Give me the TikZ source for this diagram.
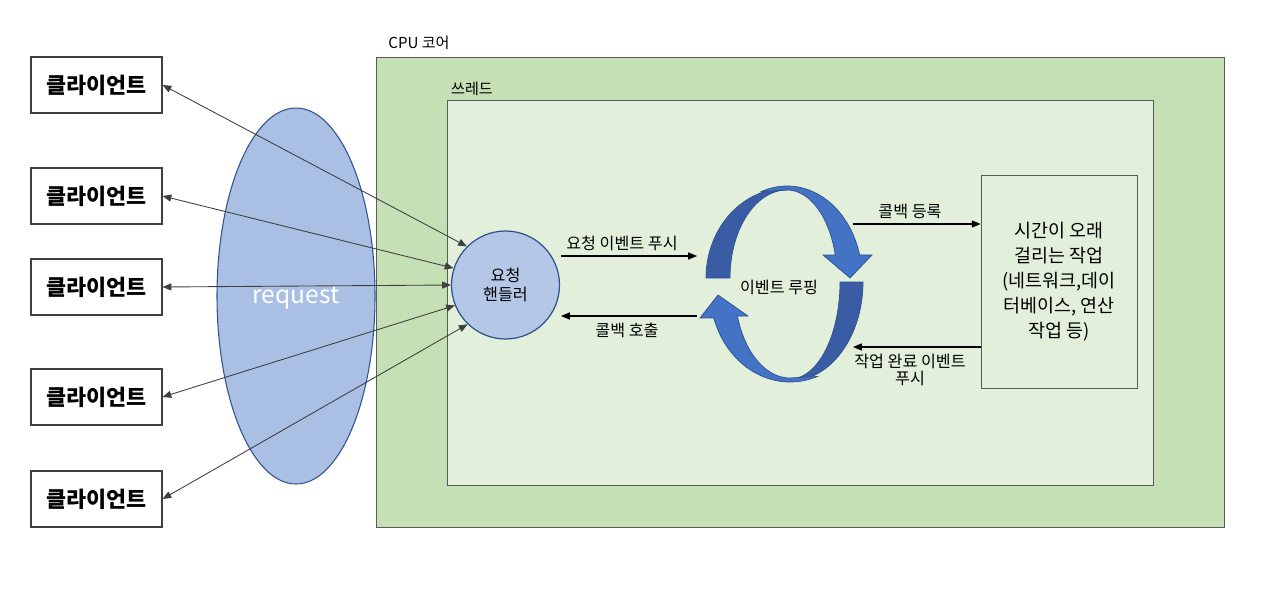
\documentclass[tikz,border=0pt]{standalone}
\usepackage{fontspec}
\setmainfont{Noto Sans CJK KR}
\usetikzlibrary{arrows.meta}
\definecolor{coreG}{HTML}{C5E0B4}
\definecolor{thrG}{HTML}{E2EFDA}
\definecolor{ellB}{HTML}{A9BFE3}
\definecolor{cirB}{HTML}{B4C7E7}
\definecolor{edgeB}{HTML}{2F528F}
\definecolor{loopD}{HTML}{3A5CA4}
\definecolor{loopL}{HTML}{4472C4}
\definecolor{lineG}{HTML}{404040}
\definecolor{boxG}{HTML}{5A5A5A}
\tikzset{
  client/.style={draw=lineG, line width=0.6pt, fill=white, minimum width=2.62cm, minimum height=1.12cm, inner sep=0pt, font=\fontsize{12.4pt}{14pt}\selectfont\bfseries},
  lbl/.style={inner sep=0pt, font=\fontsize{9.2pt}{10.5pt}\selectfont},
  biarr/.style={draw=lineG, line width=0.5pt, {Triangle[length=5pt,width=4pt]}-{Triangle[length=5pt,width=4pt]}},
  arr/.style={draw=black, line width=0.6pt, -{Triangle[length=5pt,width=4pt]}},
  ribD/.style={fill=loopD, draw=edgeB, line width=0.4pt},
  ribL/.style={fill=loopL, draw=edgeB, line width=0.4pt}
}
\begin{document}
\begin{tikzpicture}[x=0.02cm,y=-0.02cm]
\useasboundingbox (0,0) rectangle (1280,588);
% containers
\node[draw=boxG, line width=0.6pt, fill=coreG, minimum width=16.98cm, minimum height=9.42cm, inner sep=0pt] (core) at (800.5,292.5) {};
\node[draw=boxG, line width=0.6pt, fill=thrG, minimum width=14.14cm, minimum height=7.72cm, inner sep=0pt] (thread) at (800.5,293) {};
\node[lbl, font=\fontsize{8.6pt}{10pt}\selectfont] (corelbl) at (419,43) {CPU 코어};
\node[lbl, font=\fontsize{8.6pt}{10pt}\selectfont] (thrlbl) at (472,89) {쓰레드};
% request ellipse
\draw[fill=ellB, draw=edgeB, line width=0.6pt] (296,296) ellipse [x radius=79, y radius=188];
\node[inner sep=0pt, text=white, font=\fontsize{14pt}{16pt}\selectfont] (req) at (296,298) {request};
% clients
\node[client] (c1) at (96.5,85) {클라이언트};
\node[client] (c2) at (96.5,196) {클라이언트};
\node[client] (c3) at (96.5,287) {클라이언트};
\node[client] (c4) at (96.5,397) {클라이언트};
\node[client] (c5) at (96.5,499) {클라이언트};
% handler
\node[circle, draw=edgeB, line width=0.7pt, fill=cirB, minimum size=2.16cm, inner sep=0pt, align=center, font=\fontsize{9.2pt}{11pt}\selectfont] (hd) at (505.5,285) {요청\\핸들러};
\draw[biarr] (c1.east) -- (hd.135);
\draw[biarr] (c2.east) -- (hd.162);
\draw[biarr] (c3.east) -- (hd.180);
\draw[biarr] (c4.east) -- (hd.202);
\draw[biarr] (c5.east) -- (hd.226);
% long-running work
\node[draw=boxG, line width=0.5pt, fill=thrG, minimum width=3.12cm, minimum height=4.26cm, inner sep=0pt, align=center, font=\fontsize{10.5pt}{14.2pt}\selectfont] (wk) at (1059,281.5) {시간이 오래\\걸리는 작업\\(네트워크,데이\\터베이스, 연산\\작업 등)};
% event loop ribbons
\fill[ribD] plot[domain=180:270,samples=40] ({787+81*cos(\x)},{278+90*sin(\x)}) -- plot[domain=270:180,samples=40] ({787+57*cos(\x)},{278+88*sin(\x)}) -- cycle;
\fill[ribL] plot[domain=250:345.5,samples=50] ({787+75*cos(\x)},{278+92*sin(\x)}) -- (872,255) -- (850,278) -- (823,255) -- plot[domain=344.85:270,samples=40] ({787+50*cos(\x)},{278+88*sin(\x)}) -- cycle;
\fill[ribD] plot[domain=0:90,samples=40] ({790+73*cos(\x)},{282+99*sin(\x)}) -- plot[domain=90:0,samples=40] ({790+50*cos(\x)},{282+97*sin(\x)}) -- cycle;
\fill[ribL] plot[domain=70:162.3,samples=50] ({790+80*cos(\x)},{290+92*sin(\x)}) -- (700,318) -- (718,295) -- (748,316) -- plot[domain=162.8:90,samples=40] ({790+55*cos(\x)},{290+88*sin(\x)}) -- cycle;
\node[lbl] (looplbl) at (779,287) {이벤트 루핑};
% event arrows
\coordinate (p1) at (561,256);
\coordinate (p2) at (697,256);
\coordinate (p3) at (697,316);
\coordinate (p4) at (561,316);
\coordinate (p5) at (853,224);
\coordinate (p6) at (853,347);
\draw[arr] (p1) -- (p2);
\draw[arr] (p3) -- (p4);
\draw[arr] (p5) -- (p5 -| wk.west);
\draw[arr] (p6 -| wk.west) -- (p6);
\node[lbl] (l1) at (622,243) {요청 이벤트 푸시};
\node[lbl] (l2) at (627,330) {콜백 호출};
\node[lbl] (l3) at (910,211) {콜백 등록};
\node[lbl, align=center, font=\fontsize{9.2pt}{9.4pt}\selectfont] (l4) at (910,370) {작업 완료 이벤트\\푸시};
\end{tikzpicture}
\end{document}
